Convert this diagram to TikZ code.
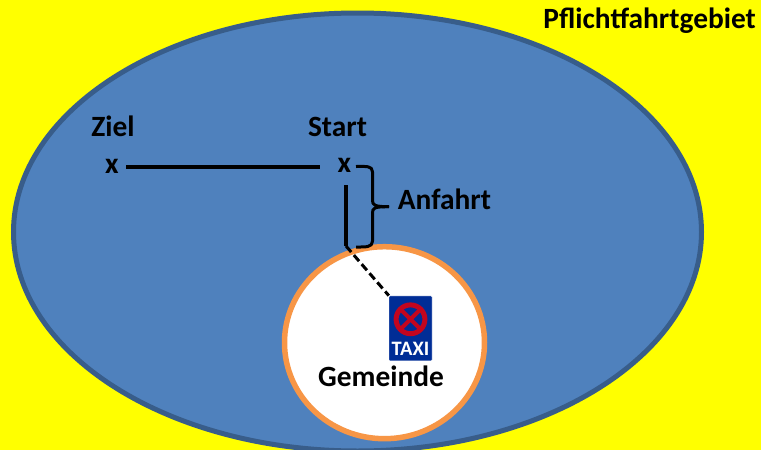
\documentclass[tikz,border=0pt]{standalone}
\usepackage{fontspec}
\setmainfont{Carlito}
\definecolor{bgyellow}{RGB}{255,255,0}
\definecolor{areablue}{RGB}{79,129,189}
\definecolor{areaedge}{RGB}{56,93,138}
\definecolor{ringorange}{RGB}{247,150,70}
\definecolor{signblue}{RGB}{0,45,150}
\definecolor{signred}{RGB}{195,5,30}
\tikzset{
  x=1pt,y=-1pt,
  lab/.style={font=\bfseries\fontsize{29.4}{32}\selectfont,text=black,inner sep=0pt},
  mark x/.style={font=\bfseries\fontsize{29.4}{32}\selectfont,text=black,inner sep=0pt},
  route/.style={draw=black,line width=4pt},
  brace/.style={draw=black,line width=3pt,line join=round}
}
\begin{document}
\begin{tikzpicture}
\useasboundingbox (0,0) rectangle (761,450);
\fill[bgyellow] (0,0) rectangle (761,450);
\begin{scope}
\clip (0,0) rectangle (761,450);
\draw[areaedge,fill=areablue,line width=5pt] (357.5,232) ellipse [x radius=344,y radius=219];
\end{scope}
\draw[ringorange,fill=white,line width=5.5pt] (384.5,342.7) ellipse [x radius=100,y radius=96];
\node[lab,anchor=east] (pf) at (756,21) {Pflichtfahrtgebiet};
\node[lab] (ziel) at (113,126.5) {Ziel};
\node[lab] (start) at (337.5,126.5) {Start};
\node[mark x] (xz) at (112,166) {x};
\node[mark x] (xs) at (344.5,165) {x};
\coordinate (lineL) at (126,167.3);
\coordinate (lineR) at (320,167.3);
\draw[route] (lineL) -- (lineR);
\coordinate (vTop) at (346,185);
\coordinate (vBot) at (346,246);
\node[inner sep=0pt,minimum width=43pt,minimum height=65pt,fill=signblue,rounded corners=1pt,draw=white,line width=0.4pt] (sign) at (410.5,328.3) {};
\draw[route] (vTop) -- (vBot);
\draw[draw=black,line width=3pt,dash pattern=on 8pt off 4pt] (vBot) -- (sign.north west);
\draw[brace] (356,166.5) .. controls (366,166.5) and (372.5,165.5) .. (372.5,172) -- (372.5,200) .. controls (372.5,205) and (374,206.7) .. (389,206.7);
\draw[brace] (356,247) .. controls (366,247) and (372.5,247.5) .. (372.5,241) -- (372.5,213) .. controls (372.5,208) and (374,206.7) .. (389,206.7);
\draw[signred,line width=5pt] (410.5,319.3) circle [radius=14.4];
\draw[signred,line width=4pt] (400.2,309) -- (420.8,329.6) (420.8,309) -- (400.2,329.6);
\node[font=\bfseries\fontsize{20.5}{23}\selectfont,text=white,inner sep=0pt] (taxi) at (410.5,349) {TAXI};
\node[lab] (an) at (444.5,199) {Anfahrt};
\node[lab] (gem) at (381,376) {Gemeinde};
\end{tikzpicture}
\end{document}
